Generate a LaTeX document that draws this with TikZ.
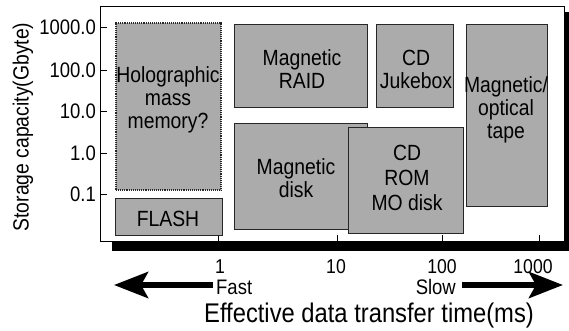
\documentclass[tikz,border=0pt]{standalone}
\usepackage{fontspec}
\setmainfont{Liberation Sans}[FakeStretch=0.88]
\usetikzlibrary{arrows.meta}
\definecolor{halftone}{gray}{0.67}
\tikzset{
  box/.style={draw=black!85, line width=0.9pt, fill=halftone, inner sep=0pt},
  dotbox/.style={box, densely dotted, line width=1.1pt},
  boxtext/.style={align=center, inner sep=0pt, font=\fontsize{22}{23}\selectfont},
  ylab/.style={anchor=east, inner sep=0pt, font=\fontsize{21}{22}\selectfont},
  xlab/.style={anchor=base, inner sep=0pt, font=\fontsize{20}{22}\selectfont},
  speed/.style={inner sep=0pt, font=\fontsize{21}{22}\selectfont},
  bigarrow/.style={line width=6pt, -{Stealth[length=34pt,width=26pt,inset=7pt]}},
}
\begin{document}
\begin{tikzpicture}[x=1pt,y=-1pt]
\useasboundingbox (0,0) rectangle (569,330);
% frame with shadow
\fill[black] (112,12) rectangle (569,251);
\draw[fill=white, line width=0.9pt] (100,6) rectangle (564,241);
% y ticks
\foreach \yy/\t/\n in {27/1000.0/ya,70/100.0/yb,111/10.0/yc,153/1.0/yd,194/0.1/ye}{
  \draw[line width=0.9pt] (100,\yy) -- (107,\yy);
  \node[ylab] (\n) at (96,\yy) {\t};
}
% x ticks
\foreach \xx/\t/\n/\lx in {218/1/xa/220,337/10/xb/336,442/100/xc/442,539/1000/xd/533}{
  \draw[line width=0.9pt] (\xx,241) -- (\xx,235);
  \node[xlab] (\n) at (\lx,273) {\t};
}
% boxes
\node[dotbox, minimum width=105pt, minimum height=167pt] (holo) at (168.5,106.5) {};
\node[box, minimum width=107pt, minimum height=37pt] (flash) at (168.5,216.5) {};
\node[box, minimum width=133pt, minimum height=83pt] (raid) at (300.5,65.5) {};
\node[box, minimum width=77pt, minimum height=83pt] (juke) at (414.5,65.5) {};
\node[box, minimum width=81pt, minimum height=182pt] (tape) at (506.5,115) {};
\node[box, minimum width=133pt, minimum height=106pt] (disk) at (300.5,176) {};
\node[box, minimum width=115pt, minimum height=106pt] (cdrom) at (405.5,180) {};
% box texts
\node[boxtext] (holot) at (168,100) {Holographic\\mass\\memory?};
\node[boxtext] (flasht) at (168,219) {FLASH};
\node[boxtext] (raidt) at (302,69) {Magnetic\\RAID};
\node[boxtext] (juket) at (416,69) {CD\\Jukebox};
\node[boxtext] (tapet) at (506,110) {Magnetic/\\optical\\tape};
\node[boxtext] (diskt) at (296,178.5) {Magnetic\\disk};
\node[boxtext, font=\fontsize{22}{25}\selectfont] (cdromt) at (407,178) {CD\\ROM\\MO disk};
% axis titles
\node[rotate=90, inner sep=0pt, font=\fontsize{22}{23}\selectfont] (ytitle) at (23,127) {Storage capacity(Gbyte)};
\node[anchor=base, inner sep=0pt, font=\fontsize{27}{29}\selectfont] (xtitle) at (369,322) {Effective data transfer time(ms)};
% fast / slow
\node[speed, anchor=base west] (fast) at (216,294) {Fast};
\node[speed, anchor=base east] (slow) at (456,294) {Slow};
\coordinate (fasttip) at (114,285);
\coordinate (slowtip) at (563,285);
\draw[bigarrow] (fast.west |- fasttip) ++(-3,0) -- (fasttip);
\draw[bigarrow] (slow.east |- slowtip) ++(6,0) -- (slowtip);
\end{tikzpicture}
\end{document}
